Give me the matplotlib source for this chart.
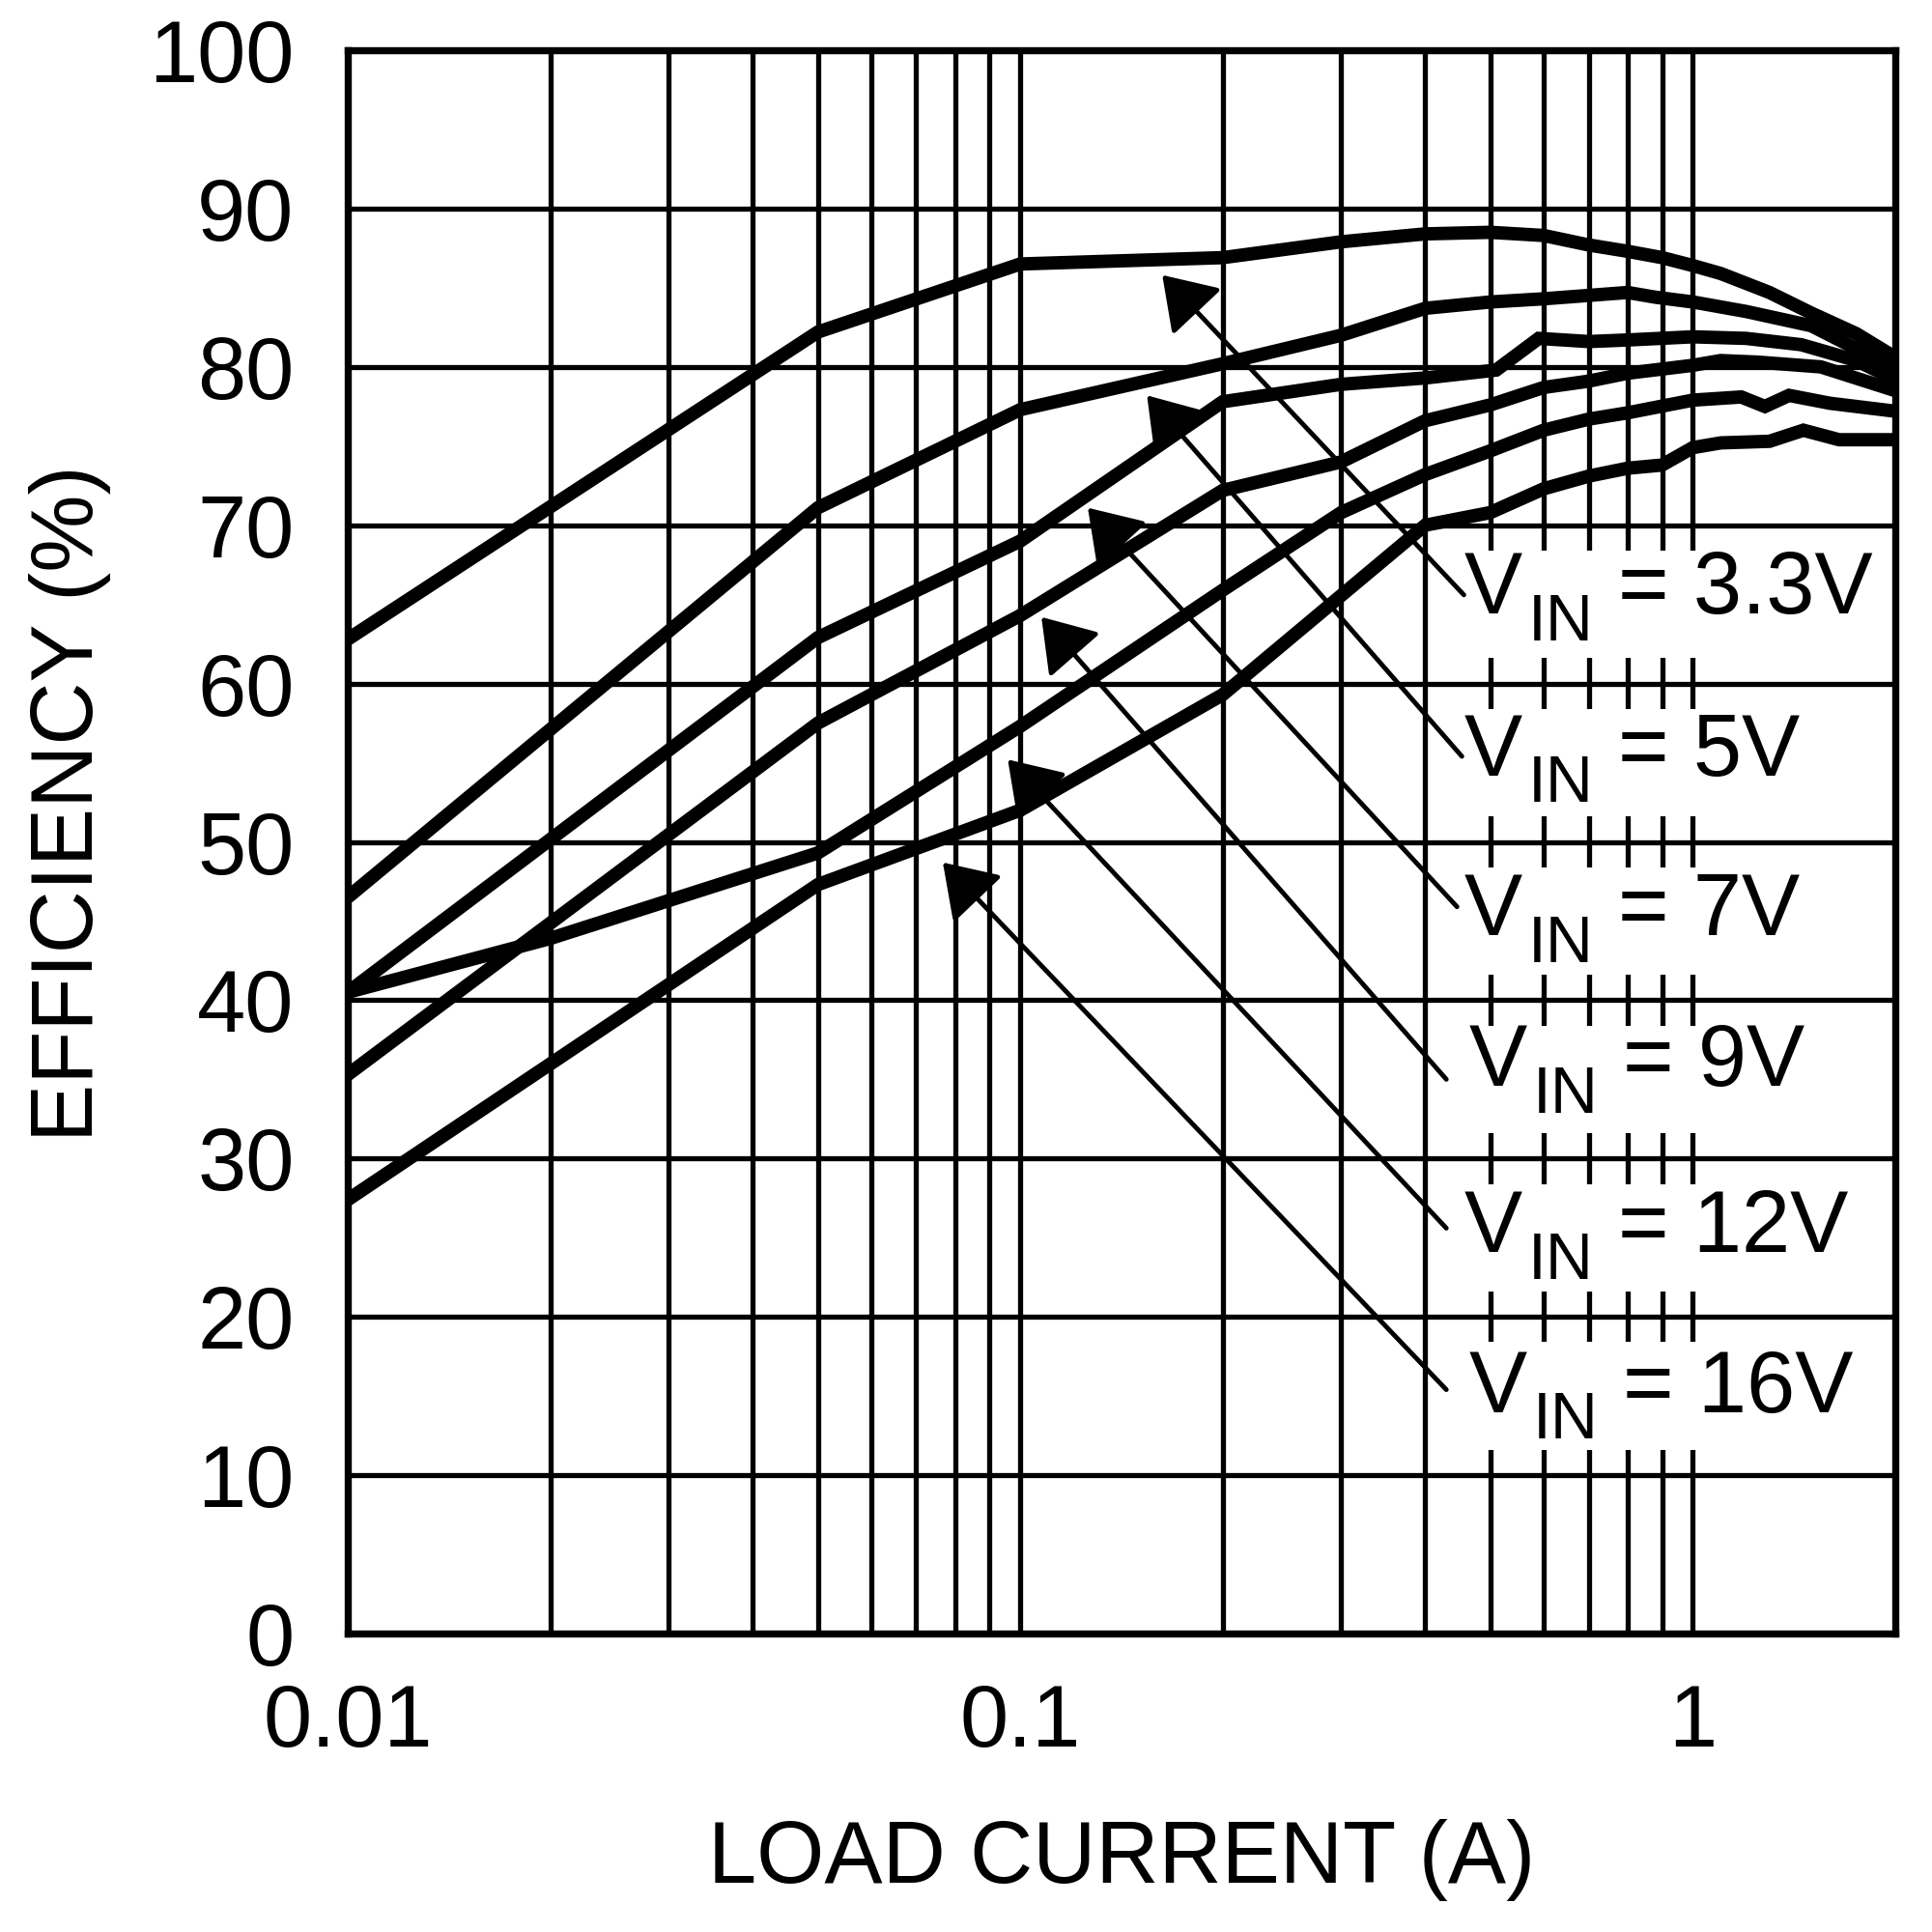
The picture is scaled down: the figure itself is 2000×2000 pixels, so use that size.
import numpy as np
import matplotlib
matplotlib.use("Agg")
import matplotlib.pyplot as plt
from matplotlib.patches import Rectangle
from matplotlib.ticker import FixedLocator, FixedFormatter, LogLocator, NullFormatter

plt.rcParams['font.family'] = ['Liberation Sans', 'DejaVu Sans']

# ---------------- data ----------------
load_33 = [0.01, 0.05, 0.1, 0.2, 0.3, 0.4, 0.5, 0.6, 0.7, 0.8, 0.9, 1.0, 1.1, 1.3, 1.5, 1.75, 2.0]
eff_33 = [62.8, 82.2, 86.5, 86.9, 87.9, 88.4, 88.5, 88.3, 87.7, 87.3, 86.9, 86.4, 85.9, 84.7, 83.4, 82.1, 80.6]

load_5 = [0.01, 0.05, 0.1, 0.2, 0.3, 0.4, 0.5, 0.6, 0.8, 0.88, 1.0, 1.2, 1.5, 2.0]
eff_5 = [46.5, 71.1, 77.3, 80.2, 82.0, 83.7, 84.1, 84.3, 84.7, 84.4, 84.1, 83.5, 82.6, 79.9]

load_7 = [0.01, 0.05, 0.1, 0.2, 0.3, 0.4, 0.51, 0.59, 0.7, 0.8, 1.0, 1.2, 1.45, 1.75, 2.0]
eff_7 = [40.5, 62.9, 69.0, 77.8, 78.9, 79.3, 79.8, 81.8, 81.6, 81.7, 81.9, 81.8, 81.4, 80.4, 79.2]

load_9 = [0.01, 0.05, 0.1, 0.2, 0.3, 0.4, 0.5, 0.6, 0.7, 0.8, 1.0, 1.1, 1.25, 1.55, 2.0]
eff_9 = [35.3, 57.5, 64.3, 72.2, 74.0, 76.6, 77.6, 78.7, 79.1, 79.6, 80.1, 80.4, 80.3, 80.0, 78.5]

load_12 = [0.01, 0.02, 0.05, 0.1, 0.2, 0.3, 0.4, 0.5, 0.6, 0.7, 0.8, 1.0, 1.18, 1.28, 1.39, 1.6, 2.0]
eff_12 = [40.5, 43.9, 49.3, 57.3, 65.9, 70.8, 73.2, 74.7, 76.0, 76.7, 77.1, 77.9, 78.1, 77.5, 78.2, 77.7, 77.2]

load_16 = [0.01, 0.05, 0.1, 0.2, 0.4, 0.5, 0.6, 0.7, 0.8, 0.9, 1.0, 1.1, 1.3, 1.46, 1.65, 2.0]
eff_16 = [27.4, 47.3, 52.0, 59.3, 70.0, 70.8, 72.3, 73.1, 73.6, 73.8, 74.9, 75.2, 75.3, 76.0, 75.4, 75.4]

series_names = ['3.3V', '5V', '7V', '9V', '12V', '16V']

x_ticks = [0.01, 0.1, 1]
x_ticklabels = ['0.01', '0.1', '1']
y_ticks = list(range(0, 101, 10))

# annotation arrows: tip on curve, tail at the label
arrow_tip_x = [0.1626, 0.1543, 0.126, 0.1075, 0.0958, 0.0767]
arrow_tip_y = [85.8, 78.2, 71.1, 64.2, 55.2, 48.7]
arrow_tail_x = [0.4566, 0.4535, 0.446, 0.430, 0.430, 0.430]
arrow_tail_y = [65.6, 55.4, 45.9, 35.0, 25.6, 15.4]

label_x = [0.4566, 0.4566, 0.4566, 0.464, 0.4566, 0.464]
label_y = [64.4, 54.2, 44.1, 34.6, 24.1, 14.0]
# white label panels (between horizontal grid lines)
panel_top = [70, 60, 50, 40, 30, 20]

# ---------------- figure ----------------
fig = plt.figure(figsize=(20, 20), dpi=100)
ax = fig.add_axes([0.18, 0.1545, 0.801, 0.8195])
ax.set_xscale('log')
ax.set_xlim(0.01, 2)
ax.set_ylim(0, 100)

ax.xaxis.set_major_locator(FixedLocator(x_ticks))
ax.xaxis.set_major_formatter(FixedFormatter(x_ticklabels))
ax.xaxis.set_minor_locator(LogLocator(base=10, subs=np.arange(2, 10)))
ax.xaxis.set_minor_formatter(NullFormatter())
ax.set_yticks(y_ticks)
ax.tick_params(which='both', length=0)
ax.tick_params(axis='y', labelsize=65, pad=40)
ax.tick_params(axis='x', labelsize=65, pad=37)

for s in ax.spines.values():
    s.set_linewidth(5.3)
    s.set_zorder(6)

ax.set_axisbelow(True)
ax.grid(which='both', axis='both', color='black', linewidth=3.8)

# white label panels hide the vertical grid lines behind the legends
for top in panel_top:
    ax.add_patch(Rectangle((0.42, top - 10 + 1.6), 1.95 - 0.42, 10 - 3.2,
                           facecolor='white', edgecolor='none', zorder=1))

series = [(load_33, eff_33), (load_5, eff_5), (load_7, eff_7),
          (load_9, eff_9), (load_12, eff_12), (load_16, eff_16)]
for xs, ys in series:
    ax.plot(xs, ys, color='black', linewidth=10, solid_joinstyle='miter',
            solid_capstyle='butt', zorder=3)

for i, name in enumerate(series_names):
    ax.annotate('', xy=(arrow_tip_x[i], arrow_tip_y[i]),
                xytext=(arrow_tail_x[i], arrow_tail_y[i]),
                arrowprops=dict(arrowstyle='-|>,head_length=1.5,head_width=1.0',
                                mutation_scale=22, lw=3.5, color='black',
                                shrinkA=0, shrinkB=0),
                zorder=4)
    ax.annotate('V', xy=(label_x[i], label_y[i]), ha='left', va='baseline',
                fontsize=65, zorder=5)
    ax.annotate('IN', xy=(label_x[i], label_y[i]), xytext=(47.9, -19.9),
                textcoords='offset points', ha='left', va='baseline',
                fontsize=49, zorder=5)
    ax.annotate('= ' + name, xy=(label_x[i], label_y[i]), xytext=(114.8, 0),
                textcoords='offset points', ha='left', va='baseline',
                fontsize=65, zorder=5)

fig.text(0.5805, 0.0255, 'LOAD CURRENT (A)', ha='center', va='baseline', fontsize=65)
fig.text(0.0365, 0.584, 'EFFICIENCY (%)', rotation=90, ha='center', va='center', fontsize=65)

fig.savefig('out.png', dpi=100, facecolor='white')
